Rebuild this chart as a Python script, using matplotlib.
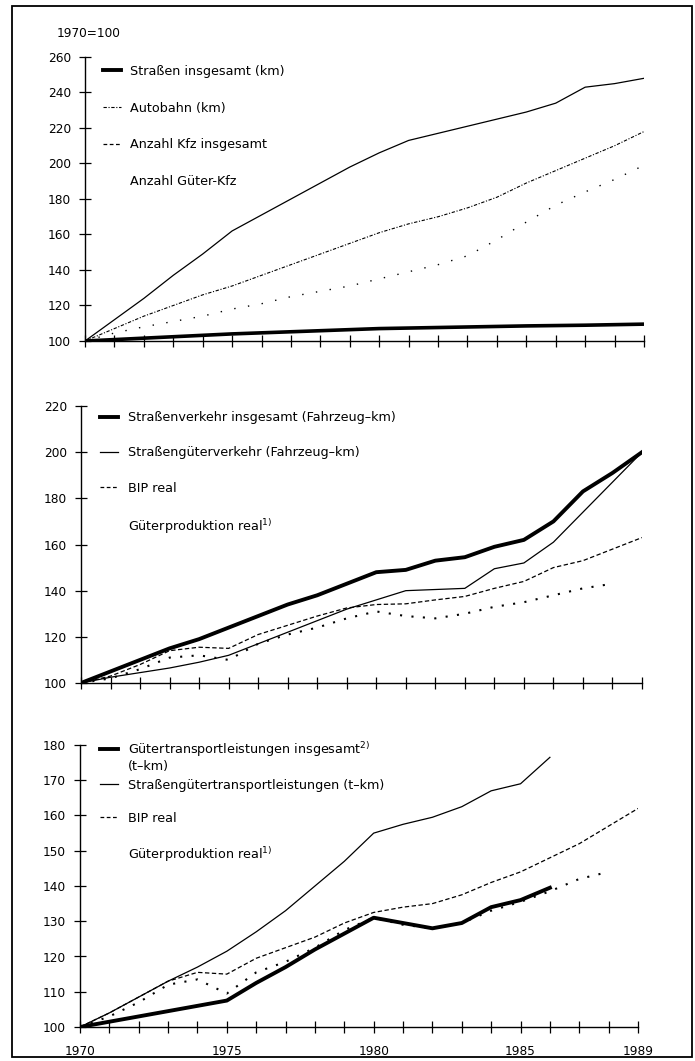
import matplotlib
matplotlib.use("Agg")
import matplotlib.pyplot as plt
from matplotlib.patches import Rectangle
from matplotlib.lines import Line2D

plt.rcParams['font.family'] = ['DejaVu Sans']
plt.rcParams['mathtext.fontset'] = 'dejavusans'

# Jahre (1970 = 100)
years = list(range(1970, 1990))

# oberes Bild: Straßen und Fahrzeuge
strassen = [100, 100.8, 101.6, 102.4, 103.2, 104, 104.6, 105.2, 105.8, 106.4,
            107, 107.3, 107.6, 107.9, 108.2, 108.5, 108.7, 108.9, 109.2, 109.5]
autobahn = [100, 112, 124, 137, 149, 162, 171, 180, 189, 198,
            206, 213, 217, 221, 225, 229, 234, 243, 245, 248]
kfz = [100, 107, 114, 120, 126, 131, 137, 143, 149, 155,
       161, 166, 170, 175, 181, 189, 196, 203, 210, 218]
gueter_kfz = [100, 104.5, 108, 111, 114, 118, 121, 125, 128, 131,
              135, 139, 143, 148, 157, 167, 176.5, 184, 191, 199]

# mittleres Bild: Fahrzeug-km
strassenverkehr = [100, 105, 110, 115, 119, 124, 129, 134, 138, 143,
                   148, 149, 153, 154.5, 159, 162, 170, 183, 191, 200]
strassengueterverkehr = [100, 102.5, 104.5, 106.5, 109, 112, 117, 122, 127, 132,
                         136, 140, 140.5, 141, 149.5, 152, 161, 174, 187, 200]
bip = [100, 103, 108, 114, 115.5, 115, 121, 125, 129, 132.5,
       134, 134.3, 136, 137.5, 141, 144, 150, 153, 158, 163]
gueterprod = [100, 102, 106, 111, 112, 110, 117, 121, 124, 128,
              131, 129, 128, 130, 133, 135, 138, 141, 143]

# unteres Bild: t-km
transport_ges = [100, 101.5, 103, 104.5, 106, 107.5, 112.5, 117, 122, 126.5,
                 131, 129.5, 128, 129.5, 134, 136, 139.5]
strasse_tkm = [100, 104, 108.5, 113, 117, 121.5, 127, 133, 140, 147,
               155, 157.5, 159.5, 162.5, 167, 169, 176.5]
bip2 = [100, 104, 108.5, 113, 115.5, 115, 119.5, 122.5, 125.5, 129.5,
        132.5, 134, 135, 137.5, 141, 144, 148, 152, 157, 162]
gueterprod2 = [100, 103, 107, 112, 113.5, 109.5, 115.5, 118.5, 122.5, 127.5,
               131, 129, 128, 129.5, 133, 135.5, 138.5, 142, 144]

xlabels = {1970: '1970', 1975: '1975', 1980: '1980', 1985: '1985', 1989: '1989'}

W, H = 695, 1061
FS = 9.2
fig = plt.figure(figsize=(W / 100, H / 100), dpi=100)

# Rahmen um das ganze Bild
fig.patches.append(Rectangle((12 / W, 1 - 1057 / H), 680 / W, 1051 / H,
                             transform=fig.transFigure, fill=False,
                             lw=1.3, color='black'))


def make_ax(left, right, top, bottom, ylim, ystep):
    ax = fig.add_axes([left / W, 1 - bottom / H, (right - left) / W, (bottom - top) / H])
    ax.set_xlim(1970, 1989)
    ax.set_ylim(*ylim)
    for s in ['top', 'right']:
        ax.spines[s].set_visible(False)
    for s in ['left', 'bottom']:
        ax.spines[s].set_linewidth(1.0)
    ax.set_xticks(years)
    ax.set_xticklabels([])
    ax.set_yticks(range(ylim[0], ylim[1] + 1, ystep))
    ax.tick_params(direction='inout', length=8, width=0.9, labelsize=8.7, pad=6)
    return ax


def add_legend(ax, handles, labels, x, y, spacing):
    # Legendenmuster wie im Original; Güterproduktion/Güter-Kfz ohne sichtbares Muster
    ax.legend(handles, labels, loc='upper left', bbox_to_anchor=(x, y),
              frameon=False, fontsize=FS, handlelength=1.4, handletextpad=0.75,
              labelspacing=spacing, borderpad=0, borderaxespad=0)


thick = Line2D([], [], color='black', lw=2.8)
thin = Line2D([], [], color='black', lw=0.9)
dashdot = Line2D([], [], color='black', lw=0.8, ls=(0, (3, 1.5, 1, 1.5)))
dashed = Line2D([], [], color='black', lw=0.9, ls=(0, (3, 2)))
empty = Line2D([], [], lw=0)

# --- oben ---
ax1 = make_ax(85, 644, 57, 341, (100, 260), 20)
ax1.plot(years, strassen, color='black', lw=2.6)
ax1.plot(years, autobahn, color='black', lw=0.9)
ax1.plot(years, kfz, color='black', lw=0.8, ls=(0, (3, 1.5, 1, 1.5)))
ax1.plot(years, gueter_kfz, color='black', lw=1.0, ls=(0, (1, 9)))
add_legend(ax1, [thick, dashdot, dashed, empty],
           ['Straßen insgesamt (km)', 'Autobahn (km)', 'Anzahl Kfz insgesamt',
            'Anzahl Güter-Kfz'], 0.032, 0.972, 1.85)
ax1.text(-0.05, 1.06, '1970=100', transform=ax1.transAxes, fontsize=8.7,
         ha='left', va='bottom')

# --- Mitte ---
ax2 = make_ax(81, 642, 406, 683, (100, 220), 20)
ax2.plot(years, strassenverkehr, color='black', lw=2.8)
ax2.plot(years, strassengueterverkehr, color='black', lw=0.9)
ax2.plot(years, bip, color='black', lw=0.9, ls=(0, (3.5, 2)))
ax2.plot(years[:len(gueterprod)], gueterprod, color='black', lw=1.5, ls=(0, (1, 4.5)))
add_legend(ax2, [thick, thin, dashed, empty],
           ['Straßenverkehr insgesamt (Fahrzeug–km)', 'Straßengüterverkehr (Fahrzeug–km)',
            'BIP real', 'Güterproduktion real$^{1)}$'], 0.034, 0.982, 1.76)

# --- unten ---
ax3 = make_ax(80, 638, 745, 1027, (100, 180), 10)
ax3.plot(years[:len(transport_ges)], transport_ges, color='black', lw=2.8)
ax3.plot(years[:len(strasse_tkm)], strasse_tkm, color='black', lw=0.9)
ax3.plot(years, bip2, color='black', lw=0.9, ls=(0, (3.5, 2)))
ax3.plot(years[:len(gueterprod2)], gueterprod2, color='black', lw=1.5, ls=(0, (1, 4.5)))
add_legend(ax3, [thick, thin, dashed, empty],
           ['Gütertransportleistungen insgesamt$^{2)}$',
            'Straßengütertransportleistungen (t–km)', 'BIP real',
            'Güterproduktion real$^{1)}$'], 0.036, 1.018, 1.56)
ax3.text(0.086, 0.924, '(t–km)', transform=ax3.transAxes, fontsize=FS,
         ha='left', va='center')
ax3.set_xticklabels([xlabels.get(y, '') for y in years])
ax3.tick_params(axis='x', pad=9)

fig.savefig('out.png', dpi=100)
